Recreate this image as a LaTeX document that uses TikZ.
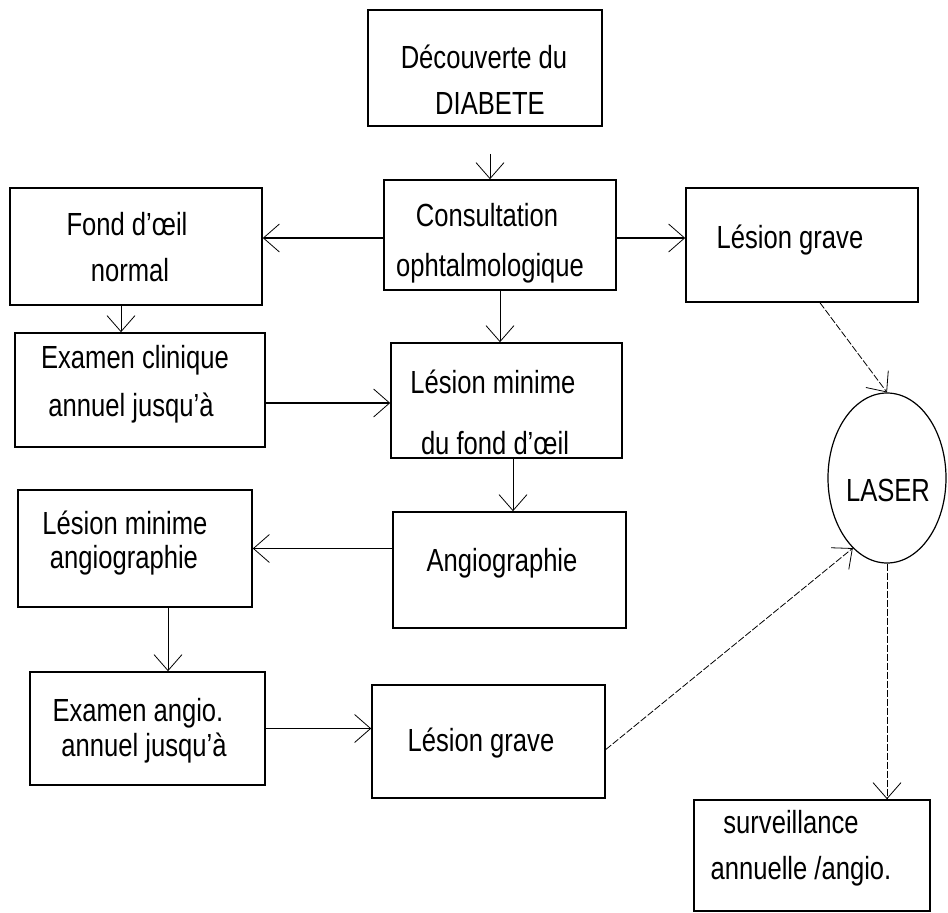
\documentclass[tikz,border=0pt]{standalone}
\usepackage{fontspec}
\setmainfont{Liberation Sans}[FakeStretch=0.8]
\usetikzlibrary{arrows.meta,shapes.geometric,calc}
\begin{document}
\begin{tikzpicture}[x=1pt,y=-1pt,
  box/.style={draw, line width=1.6pt, rectangle, inner sep=0pt},
  txt/.style={inner sep=0pt, text height=23pt, text depth=0pt, font=\fontsize{32}{38}\selectfont},
  conn/.style={line width=0.8pt, -{Straight Barb[length=16pt,width=28pt,line width=0.8pt]}},
  boldconn/.style={conn, line width=1.7pt},
  dashconn/.style={conn, dash pattern=on 7pt off 2pt}
]
\useasboundingbox (0,0) rectangle (948,913);
% boxes
\node[box, minimum width=234pt, minimum height=116pt] (dec)   at (485,68) {};
\node[box, minimum width=232pt, minimum height=110pt] (cons)  at (500,235) {};
\node[box, minimum width=252pt, minimum height=117pt] (fond)  at (136,246.5) {};
\node[box, minimum width=232pt, minimum height=114pt] (lgA)   at (802,245) {};
\node[box, minimum width=250pt, minimum height=114pt] (exc)   at (140,390) {};
\node[box, minimum width=231pt, minimum height=115pt] (lmin)  at (506.5,400.5) {};
\node[box, minimum width=233pt, minimum height=116pt] (angio) at (509.5,570) {};
\node[box, minimum width=234pt, minimum height=117pt] (lma)   at (135,548.5) {};
\node[box, minimum width=235pt, minimum height=113pt] (exa)   at (147.5,728.5) {};
\node[box, minimum width=233pt, minimum height=113pt] (lgB)   at (488.5,741.5) {};
\node[box, minimum width=236pt, minimum height=111pt] (surv)  at (812,855.5) {};
\node[draw, line width=1.2pt, ellipse, inner sep=0pt, minimum width=118pt, minimum height=170pt] (laser) at (887,478) {};
% texts
\node[txt] (dec1) at (484,57) {Découverte du};
\node[txt] (dec2) at (490,103) {DIABETE};
\node[txt] (cons1) at (487,215) {Consultation};
\node[txt] (cons2) at (490,265) {ophtalmologique};
\node[txt] (fond1) at (127,224) {Fond d'œil};
\node[txt] (fond2) at (130,270) {normal};
\node[txt] (lgA1) at (790,237) {Lésion grave};
\node[txt] (exc1) at (135,357) {Examen clinique};
\node[txt] (exc2) at (131,405) {annuel jusqu'à};
\node[txt] (lmin1) at (493,382) {Lésion minime};
\node[txt] (lmin2) at (495,443) {du fond d'œil};
\node[txt] (angio1) at (502,560) {Angiographie};
\node[txt] (lma1) at (125,523) {Lésion minime};
\node[txt] (lma2) at (124,557) {angiographie};
\node[txt] (exa1) at (138,710) {Examen angio.};
\node[txt] (exa2) at (144,745) {annuel jusqu'à};
\node[txt] (lgB1) at (481,740) {Lésion grave};
\node[txt] (surv1) at (791,822) {surveillance};
\node[txt] (surv2) at (801,868) {annuelle /angio.};
\node[txt] (laser1) at (888,490) {LASER};
% helper coordinates
\coordinate (xa) at (490,0);
\coordinate (xb) at (121,0);
\coordinate (xc) at (513,0);
\coordinate (xd) at (168,0);
\coordinate (xe) at (820,0);
\coordinate (yb) at (0,403);
\coordinate (yc) at (0,238);
% connectors
\draw[conn, shorten <=27pt] (xa |- dec.south) -- (xa |- cons.north);
\draw[boldconn] (cons.west |- yc) -- (fond.east |- yc);
\draw[conn, line width=1.2pt] (cons.east |- yc) -- (lgA.west |- yc);
\draw[conn] (cons.south) -- (cons.south |- lmin.north);
\draw[conn] (xb |- fond.south) -- (xb |- exc.north);
\draw[boldconn] (exc.east |- yb) -- (lmin.west |- yb);
\draw[conn] (xc |- lmin.south) -- (xc |- angio.north);
\draw[boldconn] (angio.west |- lma.east) -- (lma.east);
\draw[conn] (xd |- lma.south) -- (xd |- exa.north);
\draw[boldconn] (exa.east) -- (exa.east -| lgB.west);
\draw[dashconn] ([yshift=-8pt]lgB.east) -- (laser.-116);
\draw[dashconn] (xe |- lgA.south) -- (laser.north);
\draw[dashconn] (laser.south) -- (laser.south |- surv.north);
\end{tikzpicture}
\end{document}
